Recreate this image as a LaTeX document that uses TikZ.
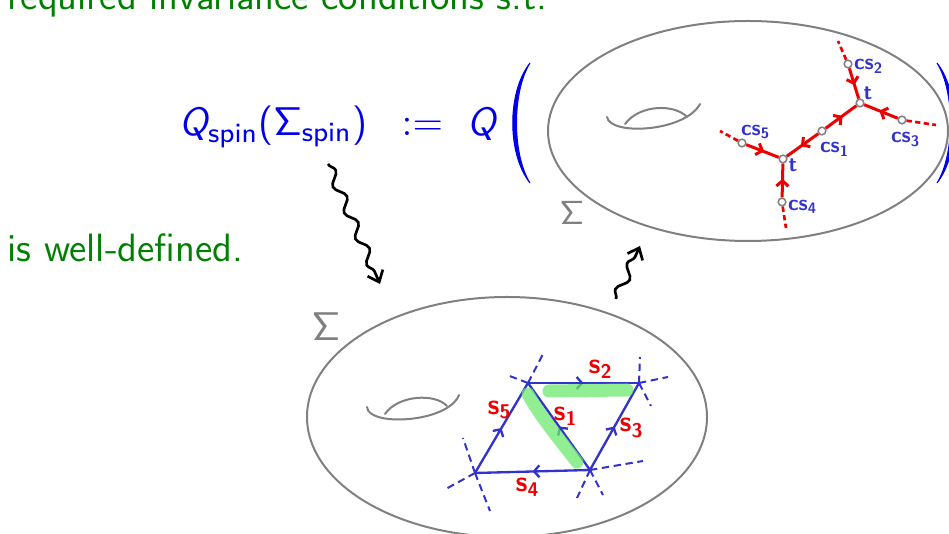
\documentclass[tikz,border=0pt]{standalone}
\usepackage{amsmath}
\usetikzlibrary{arrows.meta,decorations.markings,decorations.pathmorphing}
\definecolor{textgreen}{RGB}{0,128,0}
\definecolor{formblue}{RGB}{0,0,235}
\definecolor{inkblue}{RGB}{50,50,205}
\definecolor{inkred}{RGB}{238,0,0}
\definecolor{surfgray}{RGB}{128,128,128}
\definecolor{hlgreen}{RGB}{110,232,110}

\begin{document}
\begin{tikzpicture}[x=0.3pt,y=-0.3pt,
  slide/.style={textgreen,font=\fontsize{11.85}{14}\selectfont\sffamily,inner sep=0pt,anchor=base west},
  formula/.style={formblue,font=\fontsize{11.85}{14}\selectfont\sffamily,inner sep=0pt,anchor=base west},
  surface/.style={surfgray,line width=0.6pt},
  hole/.style={surfgray,line width=0.6pt,line cap=round},
  vert/.style={circle,draw=surfgray,fill=white,line width=0.45pt,minimum size=2.3pt,inner sep=0pt},
  redge/.style={inkred,line width=0.9pt,decoration={markings,mark=at position 0.55 with {\arrow{Straight Barb[length=1.6pt,width=3.6pt]}}},postaction={decorate}},
  rtail/.style={inkred,line width=0.8pt,dash pattern=on 1.6pt off 1pt},
  bedge/.style={inkblue,line width=0.7pt,decoration={markings,mark=at position 0.5 with {\arrow{Straight Barb[length=1.6pt,width=3.6pt]}}},postaction={decorate}},
  bstub/.style={inkblue,line width=0.6pt,dash pattern=on 2.2pt off 1.4pt},
  csl/.style={inkblue,font=\fontsize{6.5}{7}\selectfont\sffamily\bfseries,inner sep=0pt},
  sl/.style={inkred,font=\fontsize{8.5}{9}\selectfont\sffamily\bfseries,inner sep=0pt},
  wiggle/.style={black,line width=0.8pt,decorate,decoration={snake,amplitude=1.4pt,segment length=8.5pt,post length=3pt},-{Straight Barb[length=3pt,width=5pt]}},
  highlight/.style={hlgreen,opacity=0.75,line width=3.9pt,line cap=round}]
  \useasboundingbox (0,0) rectangle (949,534);

  % texto de la diapositiva
  \node[slide] (cond) at (7,10) {required invariance conditions s.t.};
  \node[slide] (welldef) at (7,262) {is well-defined.};
  \node[formula] (qdef) at (179,136)
    {$\textsl{Q}_{\textsf{spin}}\textsf{(}\mathsf{\Sigma}_{\textsf{spin}}\textsf{)}$};
  \node[formula] (assign) at (401,136) {${:=}$};
  \node[formula] (qop) at (467,136) {\textsl{Q}};
  % parentesis grandes
  \filldraw[formblue,line width=0.3pt] (530,63) .. controls (507,92) and (507,154) .. (530,183)
    .. controls (512,154) and (512,92) .. cycle;
  \filldraw[formblue,line width=0.3pt] (937,63) .. controls (960,92) and (960,154) .. (937,183)
    .. controls (955,154) and (955,92) .. cycle;

  % superficie de arriba (grafo rojo)
  \draw[surface] (748,131) ellipse [x radius=200, y radius=110];
  \draw[hole] (607,117) .. controls (610,136) and (685,132) .. (700,104);
  \draw[hole] (625,124) .. controls (640,104) and (675,104) .. (687,117);
  \node[surfgray,font=\fontsize{10}{10}\selectfont,inner sep=0pt] (sig1) at (572,213) {$\mathsf{\Sigma}$};

  \node[vert] (t1) at (860,103) {};
  \node[vert] (t2) at (783,159) {};
  \node[vert] (c1) at (822,131) {};
  \node[vert] (c2) at (848,64) {};
  \node[vert] (c3) at (902,120) {};
  \node[vert] (c4) at (782,202) {};
  \node[vert] (c5) at (742,143) {};
  \coordinate (e2) at (838,41);
  \coordinate (e3) at (936,125);
  \coordinate (e4) at (786,228);
  \coordinate (e5) at (720,131);
  \foreach \a/\b in {c2/t1,c3/t1,c1/t1,c1/t2,c5/t2,c4/t2} \draw[redge] (\a) -- (\b);
  \foreach \a/\b in {c2/e2,c3/e3,c4/e4,c5/e5} \draw[rtail] (\a) -- (\b);

  \node[csl] (lc2) at (869,66) {cs$_{\text{2}}$};
  \node[csl] (lc3) at (906,140) {cs$_{\text{3}}$};
  \node[csl] (lc1) at (835,149) {cs$_{\text{1}}$};
  \node[csl] (lc5) at (756,132) {cs$_{\text{5}}$};
  \node[csl] (lc4) at (803,207) {cs$_{\text{4}}$};
  \node[csl] (lt1) at (868,93) {t};
  \node[csl] (lt2) at (793,165) {t};

  % flechas onduladas
  \coordinate (w1) at (328,164);
  \coordinate (w2) at (380,284);
  \coordinate (w3) at (616,299);
  \coordinate (w4) at (640,246);
  \draw[wiggle] (w1) -- (w2);
  \draw[wiggle] (w3) -- (w4);

  % superficie de abajo (red azul)
  \draw[surface] (507,417) ellipse [x radius=200, y radius=120];
  \draw[hole] (367,407) .. controls (368,427) and (448,423) .. (459,395);
  \draw[hole] (385,414) .. controls (398,395) and (435,393) .. (447,406);
  \node[surfgray,font=\fontsize{12}{12}\selectfont,inner sep=0pt] (sig2) at (326,327) {$\mathsf{\Sigma}$};

  \coordinate (A) at (528,383);
  \coordinate (B) at (639,383);
  \coordinate (C) at (590,470);
  \coordinate (D) at (475,473);
  \coordinate (a1) at (543,354);
  \coordinate (a2) at (507,375);
  \coordinate (b1) at (640,357);
  \coordinate (b2) at (668,377);
  \coordinate (b3) at (651,406);
  \coordinate (k1) at (643,461);
  \coordinate (k2) at (603,495);
  \coordinate (k3) at (577,498);
  \coordinate (d1) at (463,438);
  \coordinate (d2) at (444,490);
  \coordinate (d3) at (490,511);
  \foreach \v/\e in {A/a1,A/a2,B/b1,B/b2,B/b3,C/k1,C/k2,C/k3,D/d1,D/d2,D/d3} \draw[bstub] (\v) -- (\e);
  \foreach \u/\v in {A/B,C/B,C/D,D/A,C/A} \draw[bedge] (\u) -- (\v);

  % resaltado verde
  \coordinate (h1) at (528,394);
  \coordinate (h2) at (577,462);
  \coordinate (h3) at (549,391);
  \coordinate (h4) at (627,390);
  \draw[highlight] (h1) .. controls (540,416) and (560,440) .. (h2);
  \draw[highlight] (h3) -- (h4);

  \node[sl] (ls2) at (601,369) {s$_{\text{2}}$};
  \node[sl] (ls5) at (500,410) {s$_{\text{5}}$};
  \node[sl] (ls1) at (566,416) {s$_{\text{1}}$};
  \node[sl] (ls3) at (632,428) {s$_{\text{3}}$};
  \node[sl] (ls4) at (528,487) {s$_{\text{4}}$};
\end{tikzpicture}
\end{document}
